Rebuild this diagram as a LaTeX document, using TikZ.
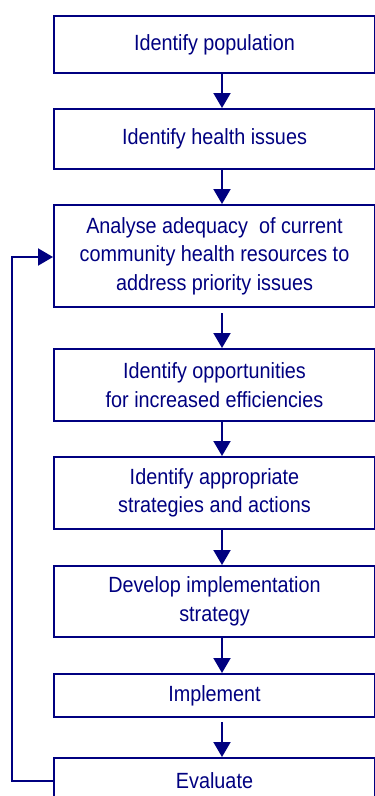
\documentclass[tikz,border=0pt]{standalone}
\usepackage{fontspec}
\setmainfont[FakeStretch=0.9]{Liberation Sans}
\usetikzlibrary{arrows.meta}
\definecolor{navy}{RGB}{0,0,128}
\begin{document}
\begin{tikzpicture}[x=1pt,y=-1pt,
  box/.style={draw=navy, line width=2pt, text=navy, align=center,
    font=\fontsize{22}{28.5}\selectfont, inner sep=0pt,
    minimum width=321pt, anchor=north west},
  arr/.style={draw=navy, line width=2pt, -{Triangle[width=17pt,length=15pt]}}]
\useasboundingbox (0,0) rectangle (375,796);
\clip (0,0) rectangle (375,796);
\node[box, minimum height=57pt] (b1) at (53,15) {Identify population};
\node[box, minimum height=60pt] (b2) at (53,108) {Identify health issues};
\node[box, minimum height=102pt] (b3) at (53,204) {Analyse adequacy~ of current\\community health resources to\\address priority issues};
\node[box, minimum height=72pt] (b4) at (53,348) {Identify opportunities\\for increased efficiencies};
\node[box, minimum height=72pt] (b5) at (53,456) {Identify appropriate\\strategies and actions};
\node[box, minimum height=71pt] (b6) at (53,565) {Develop implementation\\strategy};
\node[box, minimum height=43pt] (b7) at (53,673) {Implement};
\node[box, minimum height=46pt] (b8) at (53,757) {Evaluate};
\coordinate (ax) at (222,0);
\draw[arr] (b1.south -| ax) -- (b2.north -| ax);
\draw[arr] (b2.south -| ax) -- (b3.north -| ax);
\draw[arr] ([yshift=-5pt]b3.south -| ax) -- (b4.north -| ax);
\draw[arr] (b4.south -| ax) -- (b5.north -| ax);
\draw[arr] (b5.south -| ax) -- (b6.north -| ax);
\draw[arr] (b6.south -| ax) -- (b7.north -| ax);
\draw[arr] ([yshift=-4pt]b7.south -| ax) -- (b8.north -| ax);
\coordinate (fb) at (12,257);
\draw[arr] (b8.west) -- (b8.west -| fb) -- (fb) -- (fb -| b3.west);
\end{tikzpicture}
\end{document}
